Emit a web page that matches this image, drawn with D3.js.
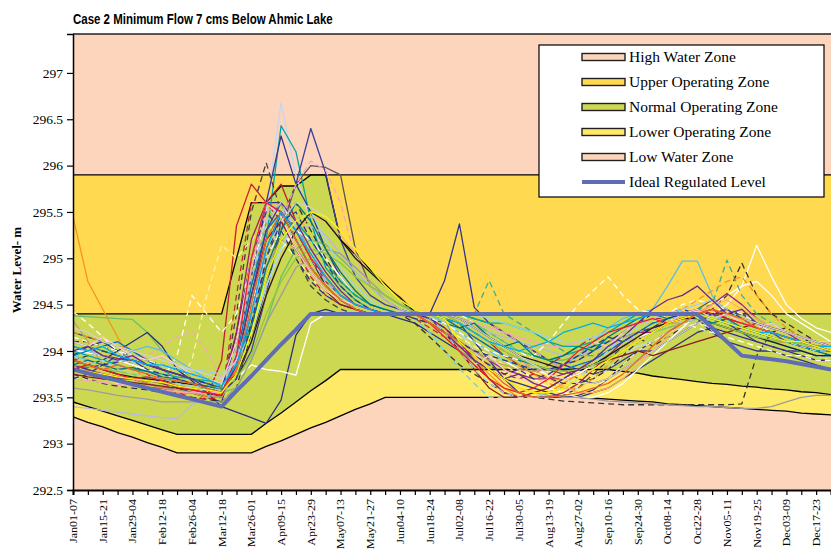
<!DOCTYPE html>
<html>
<head>
<meta charset="utf-8">
<script src="https://cdn.jsdelivr.net/npm/d3@7"></script>
<style>
  body { margin: 0; background: #ffffff; }
  svg { display: block; }
</style>
</head>
<body>
<svg id="chart" width="831" height="551"></svg>
<script>
// ---- weekly categories -------------------------------------------------
const weeks = [
  "Jan01-07","Jan08-14","Jan15-21","Jan22-28","Jan29-04","Feb05-11","Feb12-18","Feb19-25",
  "Feb26-04","Mar05-11","Mar12-18","Mar19-25","Mar26-01","Apr02-08","Apr09-15","Apr16-22",
  "Apr23-29","Apr30-06","May07-13","May14-20","May21-27","May28-03","Jun04-10","Jun11-17",
  "Jun18-24","Jun25-01","Jul02-08","Jul09-15","Jul16-22","Jul23-29","Jul30-05","Aug06-12",
  "Aug13-19","Aug20-26","Aug27-02","Sep03-09","Sep10-16","Sep17-23","Sep24-30","Oct01-07",
  "Oct08-14","Oct15-21","Oct22-28","Oct29-04","Nov05-11","Nov12-18","Nov19-25","Nov26-02",
  "Dec03-09","Dec10-16","Dec17-23","Dec24-31"
];

const yTicks = [292.5, 293, 293.5, 294, 294.5, 295, 295.5, 296, 296.5, 297];

// ---- operating zone boundaries (m) --------------------------------------
// top of the upper operating zone (= bottom of the high water zone)
const upperZoneTop = [
  295.9,295.9,295.9,295.9,295.9,295.9,295.9,295.9,295.9,295.9,295.9,295.9,295.9,
  295.9,295.9,295.9,295.9,295.9,295.9,295.9,295.9,295.9,295.9,295.9,295.9,295.9,
  295.9,295.9,295.9,295.9,295.9,295.9,295.9,295.9,295.9,295.9,295.9,295.9,295.9,
  295.9,295.9,295.9,295.9,295.9,295.9,295.9,295.9,295.9,295.9,295.9,295.9,295.9
];
// top of the normal operating zone
const normalZoneTop = [
  294.4,294.4,294.4,294.4,294.4,294.4,294.4,294.4,294.4,294.4,294.4,295.0,295.6,
  295.6,295.78,295.78,295.9,295.9,295.2,295.04,294.88,294.72,294.56,294.4,294.4,294.4,
  294.4,294.4,294.4,294.4,294.4,294.4,294.4,294.4,294.4,294.4,294.4,294.4,294.4,
  294.4,294.4,294.4,294.4,294.4,294.4,294.4,294.4,294.4,294.4,294.4,294.4,294.4
];
// bottom of the normal operating zone
const normalZoneBottom = [
  293.45,293.4,293.35,293.3,293.25,293.2,293.15,293.1,293.1,293.1,293.1,293.1,293.1,
  293.22,293.33,293.45,293.57,293.68,293.8,293.8,293.8,293.8,293.8,293.8,293.8,293.8,
  293.8,293.8,293.8,293.8,293.8,293.8,293.8,293.8,293.8,293.8,293.8,293.78,293.76,
  293.73,293.71,293.69,293.67,293.65,293.64,293.62,293.61,293.59,293.58,293.56,293.55,293.53
];
// bottom of the lower operating zone (= top of the low water zone)
const lowerZoneBottom = [
  293.29,293.23,293.18,293.12,293.07,293.01,292.96,292.9,292.9,292.9,292.9,292.9,292.9,
  292.97,293.03,293.1,293.17,293.23,293.3,293.37,293.43,293.5,293.5,293.5,293.5,293.5,
  293.5,293.5,293.5,293.5,293.5,293.5,293.5,293.5,293.5,293.49,293.48,293.47,293.46,
  293.45,293.43,293.42,293.41,293.4,293.39,293.38,293.37,293.36,293.35,293.33,293.32,293.31
];
// ideal regulated level
const idealLevel = [
  293.8,293.76,293.72,293.68,293.64,293.6,293.56,293.52,293.48,293.44,293.4,293.57,293.73,
  293.9,294.07,294.23,294.4,294.4,294.4,294.4,294.4,294.4,294.4,294.4,294.4,294.4,
  294.4,294.4,294.4,294.4,294.4,294.4,294.4,294.4,294.4,294.4,294.4,294.4,294.4,
  294.4,294.4,294.4,294.4,294.25,294.1,293.95,293.93,293.91,293.89,293.86,293.83,293.8
];

// ---- simulated weekly levels, one array per year of record ---------------
const run01 = [
  293.95,294.05,294.10,294.00,293.90,293.80,293.70,293.65,293.60,293.55,293.50,294.20,295.00,
  295.60,295.60,295.30,295.00,294.80,294.60,294.50,294.45,294.40,294.40,294.40,294.40,294.76,
  295.37,294.47,294.30,294.20,294.10,294.00,293.90,293.85,293.80,293.75,293.80,293.90,294.00,
  294.10,294.20,294.30,294.35,294.20,294.10,294.05,294.00,294.00,293.95,293.90,293.85,293.80];
const run02 = [
  294.00,293.95,293.90,293.85,293.80,293.75,293.70,293.65,293.60,293.55,293.55,293.90,294.60,
  295.50,296.68,295.90,295.40,295.00,294.80,294.60,294.50,294.45,294.40,294.40,294.35,294.30,
  294.20,294.00,293.80,293.65,293.55,293.50,293.50,293.55,293.60,293.70,293.80,293.95,294.05,
  294.10,294.20,294.25,294.30,294.25,294.20,294.15,294.10,294.05,294.00,293.95,293.90,293.90];
const run03 = [
  294.10,294.05,294.00,293.95,293.90,293.85,293.80,293.70,293.65,293.60,293.55,293.80,294.50,
  295.20,296.43,296.15,295.40,294.90,294.70,294.55,294.45,294.40,294.40,294.40,294.40,294.40,
  294.35,294.30,294.20,294.10,294.00,293.95,293.90,293.95,294.00,294.05,294.10,294.15,294.20,
  294.25,294.30,294.35,294.40,294.35,294.30,294.25,294.20,294.15,294.10,294.05,294.00,294.00];
const run04 = [
  293.85,293.80,293.75,293.70,293.70,293.65,293.60,293.60,293.55,293.50,293.45,294.00,294.80,
  295.60,296.32,295.80,295.50,295.10,294.80,294.60,294.50,294.45,294.40,294.40,294.40,294.35,
  294.30,294.10,293.90,293.70,293.55,293.50,293.50,293.50,293.52,293.58,293.70,293.85,294.00,
  294.00,294.10,294.20,294.30,294.40,294.30,294.20,294.10,294.05,294.00,294.00,293.95,293.95];
const run05 = [
  294.20,294.15,294.10,294.05,294.00,293.90,293.80,293.75,293.70,293.65,293.60,293.70,294.00,
  294.60,295.40,295.80,296.40,295.92,295.20,294.80,294.60,294.50,294.45,294.40,294.40,294.40,
  294.40,294.35,294.30,294.20,294.10,294.00,293.90,293.80,293.70,293.65,293.70,293.80,293.90,
  294.00,294.10,294.20,294.30,294.40,294.45,294.40,294.30,294.20,294.10,294.05,294.00,294.00];
const run06 = [
  293.90,293.95,294.00,293.95,293.85,293.75,293.65,293.60,293.55,293.50,293.50,294.40,295.50,
  296.03,295.50,295.00,294.70,294.55,294.45,294.40,294.40,294.40,294.40,294.35,294.30,294.20,
  294.00,293.85,293.70,293.55,293.50,293.50,293.50,293.52,293.60,293.75,293.90,294.05,294.15,
  294.05,294.15,294.25,294.30,294.35,294.30,294.25,294.20,294.15,294.10,294.05,294.00,293.95];
const run07 = [
  293.80,293.75,293.70,293.70,293.65,293.60,293.60,293.55,293.55,293.50,293.90,295.35,295.80,
  295.60,295.80,295.40,295.00,294.70,294.55,294.45,294.40,294.40,294.40,294.40,294.40,294.40,
  294.30,294.20,294.10,293.95,293.85,293.75,293.70,293.70,293.75,293.85,293.95,294.05,294.15,
  294.20,294.25,294.30,294.35,294.30,294.25,294.20,294.15,294.10,294.10,294.05,294.00,294.00];
const run08 = [
  294.05,294.00,293.95,293.90,293.85,293.80,293.75,293.70,293.65,293.60,293.55,293.70,294.10,
  294.70,295.30,295.80,296.00,295.98,295.90,295.10,294.70,294.55,294.45,294.40,294.40,294.40,
  294.35,294.25,294.15,294.05,293.95,293.85,293.80,293.75,293.80,293.85,293.95,294.05,294.15,
  294.25,294.35,294.40,294.45,294.55,294.45,294.35,294.30,294.25,294.20,294.15,294.10,294.10];
const run09 = [
  293.70,293.75,293.80,293.85,293.90,293.95,294.05,294.15,294.22,294.00,293.70,293.90,294.50,
  295.00,295.40,295.80,296.05,295.95,295.60,295.00,294.70,294.55,294.45,294.40,294.40,294.40,
  294.40,294.35,294.30,294.20,294.10,294.00,293.90,293.80,293.75,293.80,293.90,294.00,294.10,
  294.20,294.30,294.35,294.40,294.35,294.30,294.25,294.20,294.15,294.10,294.05,294.05,294.00];
const run10 = [
  294.42,294.30,294.15,294.00,293.90,293.80,293.70,293.95,294.60,294.40,294.20,294.40,294.90,
  295.40,295.60,295.30,295.00,294.75,294.60,294.50,294.45,294.40,294.40,294.40,294.40,294.40,
  294.40,294.30,294.20,294.10,294.00,293.90,293.85,293.80,293.85,293.90,294.00,294.10,294.20,
  294.30,294.40,294.50,294.55,294.50,294.45,294.40,294.30,294.20,294.15,294.10,294.05,294.00];
const run11 = [
  293.70,293.70,293.65,293.65,293.60,293.60,293.55,293.60,293.90,294.60,295.14,295.00,295.20,
  295.40,295.20,295.00,294.80,294.60,294.50,294.45,294.40,294.40,294.40,294.40,294.35,294.25,
  294.15,294.05,293.95,293.85,293.75,293.65,293.60,293.55,293.55,293.60,293.70,293.85,294.00,
  294.10,294.20,294.25,294.30,294.25,294.20,294.15,294.10,294.05,294.00,293.95,293.95,293.90];
const run12 = [
  295.45,294.75,294.45,294.15,293.85,293.65,293.60,293.55,293.55,293.50,293.50,293.80,294.40,
  295.00,295.40,295.20,294.90,294.70,294.55,294.45,294.40,294.40,294.40,294.40,294.35,294.25,
  294.05,293.90,293.75,293.60,293.50,293.50,293.55,293.65,293.75,293.85,293.95,294.05,294.15,
  294.20,294.30,294.40,294.45,294.40,294.35,294.30,294.25,294.20,294.15,294.10,294.05,294.05];
const run13 = [
  294.38,294.37,294.36,294.35,294.34,294.20,294.00,293.85,293.70,293.60,293.55,293.60,293.90,
  294.30,294.80,295.10,295.20,295.15,295.00,294.85,294.70,294.60,294.50,294.45,294.40,294.40,
  294.35,294.30,294.20,294.10,294.00,293.95,293.90,293.90,293.95,294.00,294.10,294.20,294.30,
  294.35,294.40,294.40,294.40,294.35,294.30,294.25,294.20,294.15,294.10,294.05,294.00,294.00];
const run14 = [
  293.40,293.38,293.36,293.34,293.32,293.30,293.28,293.27,293.42,293.50,293.55,293.90,294.40,
  294.90,295.20,295.30,295.35,295.25,295.05,294.85,294.70,294.55,294.45,294.40,294.40,294.35,
  294.30,294.25,294.20,294.15,294.10,294.05,294.00,293.95,293.95,294.00,294.05,294.10,294.15,
  294.20,294.25,294.30,294.35,294.30,294.25,294.20,294.15,294.10,294.05,294.00,293.95,293.95];
const run15 = [
  293.80,293.85,293.90,294.00,294.10,294.20,294.05,293.80,293.68,293.55,293.40,293.34,293.28,
  293.22,293.47,294.17,294.40,294.45,294.40,294.40,294.40,294.40,294.35,294.30,294.20,294.10,
  294.00,293.90,293.80,293.70,293.65,293.60,293.55,293.50,293.50,293.55,293.60,293.70,293.80,
  293.90,294.00,294.10,294.20,294.25,294.20,294.15,294.10,294.05,294.00,293.95,293.90,293.90];
const run16 = [
  294.00,294.00,293.95,293.90,293.85,293.80,293.75,293.70,293.65,293.60,293.60,293.70,293.85,
  293.80,293.78,293.74,294.30,294.40,294.40,294.40,294.40,294.40,294.40,294.40,294.35,294.30,
  294.20,294.10,294.00,293.90,293.80,293.70,293.60,293.55,293.50,293.50,293.55,293.65,293.80,
  293.95,294.10,294.25,294.40,294.50,294.60,294.70,294.75,294.60,294.40,294.30,294.20,294.10];
const run17 = [
  293.95,293.90,293.85,293.90,294.00,294.05,294.00,293.90,293.80,293.70,293.60,293.90,294.60,
  295.30,295.60,295.40,295.00,294.75,294.60,294.50,294.45,294.40,294.40,294.40,294.40,294.30,
  294.20,294.10,294.00,293.90,293.85,293.80,293.80,293.85,293.95,294.10,294.25,294.35,294.40,
  294.45,294.70,294.97,294.97,294.60,294.35,294.20,294.15,294.10,294.05,294.00,293.95,293.95];
const run18 = [
  294.00,293.98,293.95,293.90,293.85,293.80,293.75,293.70,293.65,293.62,293.60,293.80,294.20,
  294.70,295.10,295.30,295.20,295.00,294.80,294.60,294.50,294.45,294.40,294.40,294.40,294.35,
  294.30,294.20,294.10,294.00,293.90,293.80,293.75,293.70,293.75,293.85,293.95,294.05,294.15,
  294.20,294.25,294.30,294.35,294.40,294.50,294.70,295.14,294.80,294.50,294.35,294.25,294.20];
const run19 = [
  293.90,293.85,293.80,293.75,293.70,293.65,293.60,293.58,293.55,293.52,293.50,293.90,294.70,
  295.40,295.60,295.20,294.90,294.70,294.55,294.45,294.40,294.40,294.40,294.40,294.40,294.40,
  294.40,294.40,294.76,294.40,294.30,294.20,294.10,294.00,293.95,293.95,294.00,294.10,294.20,
  294.30,294.35,294.40,294.45,294.50,294.98,294.60,294.40,294.30,294.20,294.10,294.05,294.00];
const run20 = [
  294.10,294.10,294.05,294.00,293.95,293.90,293.85,293.80,293.75,293.70,293.65,293.90,294.40,
  295.00,295.40,295.60,295.30,295.00,294.75,294.60,294.50,294.45,294.40,294.40,294.40,294.35,
  294.30,294.20,294.10,294.00,293.90,293.80,293.70,293.65,293.65,293.70,293.80,293.95,294.10,
  294.20,294.30,294.35,294.40,294.45,294.60,294.95,294.60,294.40,294.30,294.20,294.10,294.05];
const run21 = [
  293.75,293.70,293.65,293.62,293.60,293.58,293.55,293.52,293.50,293.48,293.45,293.60,294.20,
  295.00,295.50,295.30,295.00,294.70,294.55,294.45,294.40,294.40,294.40,294.30,294.15,294.00,
  293.85,293.75,293.65,293.55,293.50,293.50,293.48,293.46,293.45,293.44,293.43,293.42,293.42,
  293.42,293.42,293.42,293.42,293.42,293.42,293.43,293.95,294.20,294.25,294.15,294.05,294.00];
const run22 = [
  293.85,293.80,293.75,293.72,293.70,293.68,293.65,293.62,293.60,293.58,293.55,293.80,294.40,
  295.10,295.50,295.30,295.00,294.75,294.60,294.50,294.45,294.40,294.40,294.40,294.30,294.20,
  294.10,294.00,293.90,293.80,293.75,293.70,293.70,293.75,293.80,293.90,294.00,294.10,294.20,
  294.25,294.30,294.35,294.40,294.50,294.62,294.50,294.35,294.25,294.20,294.10,294.05,294.00];
const run23 = [
  294.20,294.15,294.10,294.05,294.00,293.90,293.80,293.75,293.70,293.65,293.60,294.00,294.80,
  295.40,295.60,295.30,295.00,294.80,294.60,294.50,294.45,294.40,294.40,294.40,294.40,294.35,
  294.25,294.15,294.05,293.95,293.85,293.75,293.65,293.60,293.60,293.70,293.85,294.00,294.15,
  294.25,294.35,294.45,294.55,294.65,294.75,294.80,294.60,294.40,294.25,294.15,294.10,294.05];
const run24 = [
  293.80,293.78,293.75,293.72,293.70,293.65,293.60,293.55,293.50,293.48,293.50,294.60,295.60,
  295.60,295.40,295.10,294.80,294.60,294.50,294.45,294.40,294.40,294.40,294.35,294.25,294.15,
  294.05,293.95,293.85,293.75,293.70,293.75,293.85,293.95,294.05,294.15,294.20,294.25,294.30,
  294.35,294.35,294.40,294.40,294.45,294.40,294.35,294.30,294.25,294.20,294.15,294.10,294.10];
const run25 = [
  294.05,294.00,293.95,293.92,293.90,293.85,293.80,293.75,293.70,293.65,293.60,294.20,295.20,
  295.60,295.50,295.20,294.90,294.70,294.55,294.45,294.40,294.40,294.40,294.40,294.35,294.25,
  294.10,293.90,293.70,293.55,293.50,293.50,293.50,293.55,293.65,293.80,293.95,294.10,294.20,
  294.20,294.30,294.40,294.45,294.40,294.35,294.30,294.25,294.20,294.15,294.10,294.05,294.00];
const run26 = [
  293.90,293.88,293.85,293.82,293.80,293.78,293.75,293.72,293.70,293.65,293.60,293.75,294.10,
  294.60,295.00,295.30,295.45,295.40,295.25,295.05,294.85,294.70,294.55,294.45,294.40,294.40,
  294.30,294.20,294.10,294.00,293.90,293.80,293.70,293.62,293.55,293.55,293.60,293.70,293.85,
  294.00,294.15,294.30,294.40,294.50,294.55,294.45,294.35,294.25,294.20,294.15,294.10,294.10];
const run27 = [
  293.95,294.00,294.05,294.10,294.00,293.90,293.80,293.75,293.70,293.65,293.60,293.95,294.70,
  295.30,295.50,295.20,294.90,294.70,294.55,294.45,294.40,294.40,294.40,294.40,294.35,294.30,
  294.25,294.15,294.05,293.95,293.90,293.85,293.80,293.80,293.85,293.90,294.00,294.10,294.20,
  294.30,294.35,294.40,294.40,294.35,294.30,294.25,294.20,294.15,294.10,294.05,294.00,293.95];
const run28 = [
  293.90,293.85,293.80,293.78,293.75,293.70,293.68,293.65,293.60,293.58,293.55,293.85,294.50,
  295.10,295.40,295.20,294.90,294.70,294.55,294.45,294.40,294.40,294.40,294.35,294.20,294.00,
  293.81,293.65,293.50,293.50,293.50,293.50,293.55,293.60,293.70,293.80,293.90,294.00,294.10,
  294.20,294.25,294.30,294.35,294.30,294.25,294.20,294.15,294.10,294.05,294.00,293.95,293.95];
const run29 = [
  294.15,294.10,294.05,294.00,293.95,293.90,293.85,293.80,293.75,293.70,293.65,293.90,294.50,
  295.00,295.30,295.10,294.85,294.65,294.50,294.45,294.40,294.40,294.40,294.40,294.35,294.30,
  294.20,294.10,294.00,293.95,293.90,293.95,294.10,294.30,294.50,294.65,294.80,294.60,294.45,
  294.40,294.35,294.30,294.25,294.20,294.15,294.10,294.05,294.00,293.95,293.95,293.90,293.90];
const run30 = [
  293.60,293.58,293.55,293.52,293.50,293.48,293.45,293.45,293.45,293.45,293.45,293.60,293.90,
  294.30,294.60,294.90,295.00,295.10,295.05,294.90,294.75,294.60,294.50,294.42,294.40,294.35,
  294.00,293.90,293.80,293.70,293.60,293.55,293.52,293.50,293.50,293.48,293.46,293.45,293.44,
  293.43,293.42,293.41,293.40,293.40,293.39,293.38,293.38,293.40,293.45,293.50,293.52,293.52];
const run31 = [
  294.33,294.10,293.85,293.75,293.70,293.65,293.60,293.58,293.55,293.52,293.50,293.80,294.30,
  294.90,295.20,295.10,294.90,294.70,294.55,294.45,294.40,294.40,294.40,294.40,294.30,294.20,
  294.10,294.00,293.90,293.85,293.80,293.78,293.80,293.85,293.90,294.00,294.10,294.15,294.20,
  294.25,294.30,294.30,294.35,294.30,294.25,294.20,294.15,294.10,294.10,294.05,294.05,294.00];
const run32 = [
  293.70,293.68,293.66,293.64,293.62,293.60,293.58,293.56,293.55,293.55,293.55,294.00,294.90,
  295.50,295.60,295.40,295.10,294.80,294.60,294.50,294.45,294.40,294.40,294.40,294.40,294.40,
  294.35,294.30,294.25,294.20,294.15,294.10,294.05,294.05,294.10,294.15,294.20,294.25,294.30,
  294.35,294.40,294.40,294.40,294.35,294.30,294.25,294.20,294.20,294.15,294.10,294.10,294.05];
const run33 = [
  294.00,293.95,293.90,293.85,293.80,293.78,293.75,293.72,293.70,293.68,293.65,293.85,294.30,
  294.80,295.20,295.40,295.20,294.95,294.75,294.60,294.50,294.45,294.40,294.40,294.40,294.40,
  294.40,294.35,294.30,294.30,294.25,294.20,294.10,294.05,294.05,294.10,294.20,294.30,294.40,
  294.40,294.40,294.40,294.40,294.35,294.30,294.25,294.20,294.15,294.10,294.05,294.00,294.00];
const run34 = [
  293.80,293.82,293.85,293.88,293.90,293.85,293.80,293.75,293.70,293.65,293.60,294.10,295.00,
  295.50,295.30,295.00,294.75,294.60,294.50,294.45,294.40,294.40,294.40,294.35,294.30,294.20,
  294.10,294.00,293.95,293.90,293.85,293.80,293.80,293.85,293.90,294.00,294.10,294.20,294.30,
  294.40,294.40,294.45,294.40,294.35,294.30,294.25,294.20,294.15,294.10,294.05,294.00,294.00];
const run35 = [
  293.90,293.85,293.80,293.75,293.72,293.70,293.68,293.66,293.64,293.62,293.60,293.75,294.10,
  294.60,295.00,295.30,295.50,295.40,295.20,295.00,294.85,294.70,294.58,294.42,294.40,294.40,
  294.35,294.25,294.15,294.05,293.95,293.90,293.85,293.80,293.80,293.85,293.95,294.05,294.15,
  294.25,294.30,294.35,294.35,294.30,294.25,294.20,294.15,294.10,294.05,294.00,293.95,293.95];
const run36 = [
  294.05,294.00,293.95,293.90,293.88,293.86,293.84,293.82,293.80,293.78,293.75,293.90,294.20,
  294.70,295.10,295.40,295.50,295.20,294.90,294.70,294.55,294.45,294.40,294.40,294.40,294.40,
  294.40,294.40,294.35,294.30,294.25,294.20,294.15,294.10,294.10,294.15,294.20,294.25,294.30,
  294.35,294.40,294.45,294.50,294.55,294.45,294.35,294.25,294.20,294.15,294.10,294.05,294.05];
const run37 = [
  293.75,293.72,293.70,293.68,293.66,293.64,293.62,293.60,293.58,293.55,293.52,293.85,294.60,
  295.20,295.40,295.10,294.85,294.65,294.50,294.45,294.40,294.40,294.40,294.40,294.30,294.20,
  294.00,293.80,293.60,293.50,293.50,293.55,293.60,293.70,293.80,293.85,293.90,293.95,294.00,
  293.95,294.00,294.05,294.10,294.15,294.20,294.25,294.30,294.25,294.20,294.15,294.10,294.05];
const run38 = [
  293.85,293.83,293.80,293.78,293.75,293.72,293.70,293.68,293.65,293.62,293.60,293.70,293.95,
  294.40,294.75,295.00,295.10,295.05,294.95,294.80,294.70,294.60,294.50,294.42,294.40,294.40,
  294.30,294.20,294.10,294.00,293.92,293.85,293.80,293.78,293.80,293.85,293.92,294.00,294.10,
  294.20,294.25,294.30,294.35,294.30,294.25,294.20,294.15,294.12,294.10,294.08,294.05,294.05];
const run39 = [
  294.10,294.05,294.15,294.05,293.95,293.90,293.95,293.85,293.75,293.70,293.65,294.10,295.00,
  295.60,295.45,295.10,294.85,294.65,294.55,294.50,294.45,294.40,294.40,294.40,294.30,294.15,
  294.00,293.85,293.95,293.80,293.70,293.65,293.70,293.85,294.00,294.10,294.05,294.20,294.30,
  294.35,294.30,294.40,294.45,294.35,294.40,294.30,294.25,294.30,294.20,294.15,294.10,294.10];
const run40 = [
  293.85,293.90,293.85,293.80,293.82,293.78,293.72,293.70,293.65,293.62,293.58,293.75,294.25,
  294.90,295.30,295.60,295.40,295.10,294.85,294.65,294.50,294.45,294.40,294.40,294.40,294.35,
  294.25,294.30,294.15,294.05,294.10,293.95,293.90,293.95,294.05,294.00,294.15,294.25,294.35,
  294.40,294.35,294.40,294.38,294.30,294.35,294.25,294.20,294.15,294.10,294.10,294.05,294.00];
const run41 = [
  294.00,294.05,293.95,293.90,293.95,293.85,293.80,293.75,293.70,293.60,293.55,293.85,294.60,
  295.30,295.60,295.40,295.10,294.85,294.65,294.50,294.45,294.40,294.40,294.40,294.35,294.20,
  294.05,293.90,293.80,293.70,293.75,293.65,293.60,293.70,293.80,293.90,294.05,294.15,294.30,
  294.45,294.55,294.60,294.70,294.55,294.40,294.45,294.30,294.25,294.20,294.15,294.10,294.05];
const run42 = [
  293.95,293.85,293.90,293.80,293.75,293.72,293.70,293.65,293.62,293.60,293.58,294.00,294.80,
  295.40,295.60,295.30,295.00,294.75,294.60,294.50,294.45,294.40,294.40,294.40,294.35,294.20,
  294.00,293.80,293.65,293.55,293.50,293.50,293.55,293.60,293.70,293.85,294.00,294.15,294.25,
  294.35,294.40,294.30,294.35,294.40,294.30,294.25,294.20,294.15,294.10,294.05,294.00,294.00];
const run43 = [
  293.80,293.85,293.80,293.75,293.70,293.72,293.68,293.62,293.58,293.55,293.52,293.95,295.00,
  295.60,295.50,295.30,295.00,294.80,294.60,294.50,294.45,294.40,294.40,294.40,294.30,294.15,
  294.00,293.85,293.70,293.60,293.55,293.60,293.70,293.85,294.00,294.10,294.20,294.25,294.30,
  294.35,294.30,294.35,294.40,294.45,294.35,294.30,294.25,294.20,294.15,294.10,294.05,294.05];
const run44 = [
  294.25,294.20,294.10,294.05,294.00,293.95,293.90,293.85,293.80,293.75,293.70,293.90,294.40,
  295.00,295.40,295.60,295.55,295.45,295.30,295.10,294.90,294.70,294.55,294.45,294.40,294.40,
  294.35,294.25,294.15,294.05,293.95,293.85,293.75,293.70,293.65,293.65,293.70,293.80,293.90,
  294.00,294.10,294.20,294.30,294.35,294.40,294.35,294.30,294.25,294.20,294.15,294.10,294.05];
const run45 = [
  293.70,293.75,293.85,293.95,293.90,293.80,293.75,293.70,293.65,293.60,293.55,293.70,294.30,
  295.00,295.40,295.50,295.20,294.95,294.70,294.55,294.45,294.40,294.40,294.40,294.35,294.25,
  294.10,293.95,293.85,293.75,293.80,293.70,293.75,293.85,293.95,294.05,294.15,294.10,294.20,
  294.25,294.35,294.40,294.35,294.40,294.45,294.35,294.25,294.20,294.15,294.10,294.05,294.00];
const run46 = [
  293.90,293.85,293.80,293.85,293.80,293.75,293.70,293.68,293.65,293.60,293.55,293.80,294.50,
  295.20,295.50,295.20,294.90,294.70,294.55,294.45,294.40,294.40,294.40,294.40,294.30,294.20,
  294.10,293.95,293.80,293.65,293.55,293.50,293.50,293.52,293.55,293.60,293.65,293.75,293.90,
  294.05,294.20,294.30,294.40,294.45,294.40,294.35,294.25,294.20,294.15,294.10,294.05,294.00];
const run47 = [
  294.05,294.00,294.05,293.95,293.90,293.85,293.85,293.80,293.75,293.70,293.62,293.85,294.40,
  295.10,295.50,295.30,295.05,294.80,294.60,294.50,294.45,294.40,294.40,294.40,294.40,294.35,
  294.30,294.20,294.10,294.05,294.00,294.05,294.10,294.20,294.25,294.30,294.25,294.30,294.35,
  294.40,294.40,294.42,294.40,294.35,294.30,294.25,294.20,294.20,294.15,294.10,294.05,294.05];
const run48 = [
  293.80,293.78,293.75,293.72,293.70,293.68,293.66,293.62,293.60,293.58,293.55,293.75,294.20,
  294.80,295.20,295.40,295.50,295.45,295.30,295.10,294.90,294.70,294.55,294.45,294.40,294.35,
  294.10,293.95,293.80,293.70,293.60,293.55,293.55,293.60,293.70,293.80,293.90,294.00,294.10,
  294.20,294.30,294.35,294.40,294.35,294.30,294.25,294.20,294.15,294.10,294.10,294.05,294.00];

const runs = [run01,run02,run03,run04,run05,run06,run07,run08,run09,run10,run11,run12,run13,
  run14,run15,run16,run17,run18,run19,run20,run21,run22,run23,run24,run25,run26,run27,run28,
  run29,run30,run31,run32,run33,run34,run35,run36,run37,run38,run39,run40,run41,run42,run43,
  run44,run45,run46,run47,run48];
const runColors = [
  "#2E3192","#C6D6EE","#00A3A3","#34368F","#3B3F99","#404040","#BE1E2D","#555555",
  "#F4A6C6","#FFFFFF","#FFF59D","#F7941D","#6DBE6D","#B8B8E0","#2B2E83","#FFFFFF",
  "#5BC0E8","#FFFFFF","#3FAE8F","#333333","#333333","#92278F","#F7941D","#C1272D",
  "#9E1F63","#FBB26A","#0072BC","#6DCFF6","#FFFFFF","#9D9D9D","#C69C6D","#F6A5C0",
  "#00A99D","#2E3192","#1A1A1A","#9BD3EE","#8B1A1A","#8DC63F","#F9C9D6","#00767A",
  "#662D91","#9BD3EE","#ED1C24","#D0D0D0","#333399","#F26522","#00AEEF","#FFF200"];
const runDashed = [
  false,false,false,false,false,true,false,false,
  true,true,true,false,false,false,false,false,
  false,false,true,true,true,false,true,true,
  false,false,false,true,true,false,false,false,
  false,true,false,false,false,false,false,false,
  false,true,false,false,true,false,false,false];

const zoneNames = ["High Water Zone","Upper Operating Zone","Normal Operating Zone",
  "Lower Operating Zone","Low Water Zone","Ideal Regulated Level"];

// ---- drawing -----------------------------------------------------------
const svg = d3.select("#chart");
const plot = { left: 73, right: 831, top: 34, bottom: 490 };
const yMax = 297.42;
const serif = "'Liberation Serif', 'Times New Roman', serif";

const x = d3.scalePoint().domain(weeks).range([plot.left, plot.right]);
const y = d3.scaleLinear().domain([292.5, yMax]).range([plot.bottom, plot.top]);

const colors = {
  peach: "#FDD5BD", upper: "#FFD94F", normal: "#CCD852", lower: "#FFEA68",
  ideal: "#5F6DB5"
};

svg.append("defs").append("clipPath").attr("id", "plotClip")
  .append("rect").attr("x", plot.left).attr("y", plot.top)
  .attr("width", plot.right - plot.left).attr("height", plot.bottom - plot.top);

const g = svg.append("g").attr("clip-path", "url(#plotClip)");

function band(lowArr, highArr, fill) {
  const area = d3.area()
    .x((d, i) => x(weeks[i]))
    .y0((d, i) => y(lowArr === null ? 292.5 : lowArr[i]))
    .y1((d, i) => y(highArr === null ? yMax : highArr[i]));
  g.append("path").datum(weeks).attr("d", area).attr("fill", fill);
}
band(upperZoneTop, null, colors.peach);
band(normalZoneTop, upperZoneTop, colors.upper);
band(normalZoneBottom, normalZoneTop, colors.normal);
band(lowerZoneBottom, normalZoneBottom, colors.lower);
band(null, lowerZoneBottom, colors.peach);

const lineGen = d3.line().x((d, i) => x(weeks[i])).y(d => y(d));
[upperZoneTop, normalZoneTop, normalZoneBottom, lowerZoneBottom].forEach(arr => {
  g.append("path").datum(arr).attr("d", lineGen)
    .attr("fill", "none").attr("stroke", "#000").attr("stroke-width", 1.3);
});

runs.forEach((r, k) => {
  g.append("path").datum(r).attr("d", lineGen)
    .attr("fill", "none")
    .attr("stroke", runColors[k])
    .attr("stroke-width", 1.3)
    .attr("stroke-linejoin", "round")
    .attr("stroke-dasharray", runDashed[k] ? "6,4" : null);
});

g.append("path").datum(idealLevel).attr("d", lineGen)
  .attr("fill", "none").attr("stroke", colors.ideal).attr("stroke-width", 4)
  .attr("stroke-linejoin", "round");

// plot frame
svg.append("line").attr("x1", plot.left).attr("x2", plot.right)
  .attr("y1", plot.top).attr("y2", plot.top).attr("stroke", "#231F20").attr("stroke-width", 1.5);

// y axis
const yAxis = svg.append("g").attr("transform", `translate(${plot.left},0)`)
  .call(d3.axisLeft(y).tickValues(yTicks).tickSize(6).tickPadding(4).tickFormat(d => String(d)));
yAxis.attr("font-family", null).attr("font-size", null);
yAxis.select(".domain").attr("stroke", "#000").attr("stroke-width", 1.5);
yAxis.selectAll(".tick line").attr("stroke", "#000").attr("stroke-width", 1.2);
yAxis.selectAll("text")
  .style("font-family", serif).style("font-size", "13.5px").attr("fill", "#000");

// x axis
const xAxis = svg.append("g").attr("transform", `translate(0,${plot.bottom})`)
  .call(d3.axisBottom(x).tickSize(5).tickFormat((d, i) => i % 2 === 0 ? d : ""));
xAxis.attr("font-family", null).attr("font-size", null);
xAxis.select(".domain").attr("stroke", "#000").attr("stroke-width", 2);
xAxis.selectAll(".tick line").attr("stroke", "#000").attr("stroke-width", 1.2);
xAxis.selectAll("text")
  .style("font-family", serif).style("font-size", "12px").attr("fill", "#000")
  .attr("text-anchor", "end")
  .attr("x", 0).attr("y", 0).attr("dy", "0.35em")
  .attr("transform", "translate(0,9) rotate(-90) scale(1,0.82)");

// y axis title
svg.append("text")
  .attr("transform", "translate(21,270) rotate(-90)")
  .attr("text-anchor", "middle")
  .style("font-family", serif)
  .attr("font-weight", "bold").style("font-size", "13px")
  .text("Water Level- m");

// title
svg.append("text")
  .attr("transform", "translate(73,24) scale(0.82,1)")
  .style("font-family", "'Liberation Sans', Arial, sans-serif")
  .attr("font-weight", "bold").style("font-size", "14px")
  .attr("fill", "#000")
  .text("Case 2 Minimum Flow 7 cms Below Ahmic Lake");

// legend
const legend = svg.append("g").attr("transform", "translate(539,45)");
legend.append("rect").attr("width", 285).attr("height", 152)
  .attr("fill", "#fff").attr("stroke", "#000").attr("stroke-width", 1.2);
const swatchFills = [colors.peach, colors.upper, colors.normal, colors.lower, colors.peach];
zoneNames.forEach((name, i) => {
  const cy = 12 + i * 25;
  if (i < 5) {
    legend.append("rect").attr("x", 43).attr("y", cy - 3.5).attr("width", 43).attr("height", 7)
      .attr("fill", swatchFills[i]).attr("stroke", "#231F20").attr("stroke-width", 1.4);
  } else {
    legend.append("line").attr("x1", 43).attr("x2", 86).attr("y1", cy).attr("y2", cy)
      .attr("stroke", colors.ideal).attr("stroke-width", 4);
  }
  legend.append("text").attr("x", 90).attr("y", cy).attr("dy", "0.35em")
    .style("font-family", serif)
    .style("font-size", "15.5px").attr("fill", "#000")
    .text(name);
});
</script>
</body>
</html>
